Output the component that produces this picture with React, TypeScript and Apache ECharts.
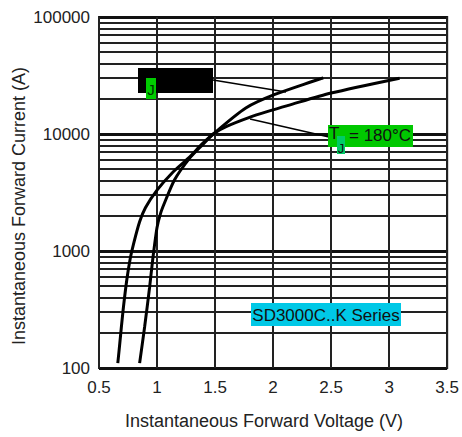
import React, { useEffect, useRef } from "react";
import * as echarts from "echarts";

// Tj = 180°C curve (lower Vf at low current, higher Vf at high current)
const hotV = [0.662, 0.679, 0.705, 0.739, 0.77, 0.8, 0.85, 0.9, 1.0, 1.13, 1.278, 1.389, 1.49, 1.6, 1.791, 1.962, 2.132, 2.5, 3.09];
const hotI = [110, 162, 295, 562, 871, 1175, 1778, 2344, 3311, 4645, 6310, 8222, 10116, 11614, 13804, 15668, 17579, 22387, 30000];

// Tj = 25°C curve
const coldV = [0.85, 0.893, 0.936, 0.962, 1.0, 1.03, 1.064, 1.15, 1.278, 1.389, 1.491, 1.765, 2.021, 2.432];
const coldI = [110, 224, 490, 832, 1585, 2089, 2570, 4046, 6166, 8035, 10116, 16672, 21878, 30200];

const xTicks = [0.5, 1, 1.5, 2, 2.5, 3, 3.5];
const yTicks = [100, 1000, 10000, 100000];
const minorY = [200, 300, 400, 500, 600, 700, 800, 900, 2000, 3000, 4000, 5000, 6000, 7000, 8000, 9000, 20000, 30000, 40000, 50000, 60000, 70000, 80000, 90000];

const FONT = "'Liberation Sans', Arial, sans-serif";

export default function App() {
  const ref = useRef<HTMLDivElement>(null);
  useEffect(() => {
    if (!ref.current) return;
    const chart = echarts.init(ref.current, null, { renderer: "svg" });
    const option: any = {
      animation: false,
      backgroundColor: "#ffffff",
      grid: { left: 99, right: 12, top: 17, bottom: 69, show: true, borderColor: "#222", borderWidth: 2, backgroundColor: "transparent" },
      xAxis: {
        type: "value",
        min: xTicks[0],
        max: xTicks[xTicks.length - 1],
        interval: 0.5,
        axisLine: { show: false },
        axisTick: { show: false },
        axisLabel: { color: "#222", fontSize: 17, fontFamily: FONT, margin: 11, formatter: (v: number) => String(v) },
        splitLine: { show: true, lineStyle: { color: "#222", width: 2 } },
      },
      yAxis: {
        type: "log",
        logBase: 10,
        min: yTicks[0],
        max: yTicks[yTicks.length - 1],
        axisLine: { show: false },
        axisTick: { show: false },
        axisLabel: { color: "#222", fontSize: 17, fontFamily: FONT, margin: 9, formatter: (v: number) => String(Math.round(v)) },
        splitLine: { show: true, lineStyle: { color: "#111", width: 3 } },
      },
      series: [
        {
          type: "line",
          data: [],
          silent: true,
          markLine: {
            silent: true,
            symbol: "none",
            label: { show: false },
            lineStyle: { color: "#222", width: 2, type: "solid" },
            data: minorY.map((v) => ({ yAxis: v })),
          },
        },
        {
          type: "line",
          data: coldV.map((v, i) => [v, coldI[i]]),
          showSymbol: false,
          smooth: 0.25,
          lineStyle: { color: "#000", width: 3 },
          z: 5,
        },
        {
          type: "line",
          data: hotV.map((v, i) => [v, hotI[i]]),
          showSymbol: false,
          smooth: 0.25,
          lineStyle: { color: "#000", width: 3 },
          z: 5,
        },
      ],
      graphic: [
        { type: "line", shape: { x1: 213, y1: 80, x2: 286, y2: 92 }, style: { stroke: "#000", lineWidth: 1.5 }, z: 10 },
        { type: "line", shape: { x1: 250, y1: 119, x2: 329, y2: 137 }, style: { stroke: "#000", lineWidth: 1.5 }, z: 10 },
        { type: "rect", shape: { x: 138, y: 68, width: 75, height: 25 }, style: { fill: "#000" }, z: 10 },
        { type: "rect", shape: { x: 146, y: 78, width: 10, height: 21 }, style: { fill: "#00cc00" }, z: 11 },
        { type: "text", x: 151, y: 89, style: { text: "J", fill: "#003300", font: `15px ${FONT}`, textAlign: "center", textVerticalAlign: "middle" }, z: 12 },
        { type: "rect", shape: { x: 328, y: 125, width: 85, height: 22 }, style: { fill: "#00c800" }, z: 10 },
        { type: "rect", shape: { x: 337, y: 136, width: 8, height: 18 }, style: { fill: "#00cc66" }, z: 11 },
        { type: "text", x: 329, y: 133.5, style: { text: "T", fill: "#111", font: `17px ${FONT}`, textAlign: "left", textVerticalAlign: "middle" }, z: 12 },
        { type: "text", x: 341, y: 148.5, style: { text: "J", fill: "#111", font: `13px ${FONT}`, textAlign: "center", textVerticalAlign: "middle" }, z: 12 },
        { type: "text", x: 349, y: 135, style: { text: "= 180°C", fill: "#111", font: `17px ${FONT}`, textAlign: "left", textVerticalAlign: "middle" }, z: 12 },
        { type: "rect", shape: { x: 251, y: 303, width: 150, height: 23 }, style: { fill: "#00c8e6" }, z: 10 },
        { type: "text", x: 326, y: 315, style: { text: "SD3000C..K Series", fill: "#111", font: `17px ${FONT}`, textAlign: "center", textVerticalAlign: "middle" }, z: 12 },
        { type: "text", x: 264, y: 421, style: { text: "Instantaneous Forward Voltage (V)", fill: "#222", font: `18px ${FONT}`, textAlign: "center", textVerticalAlign: "middle" } },
        { type: "text", x: 19, y: 206, rotation: Math.PI / 2, style: { text: "Instantaneous Forward Current (A)", fill: "#222", font: `18px ${FONT}`, textAlign: "center", textVerticalAlign: "middle" } },
      ],
    };
    chart.setOption(option);
    return () => chart.dispose();
  }, []);
  return <div ref={ref} style={{ position: "fixed", left: 0, top: 0, width: 462, height: 437 }} />;
}
